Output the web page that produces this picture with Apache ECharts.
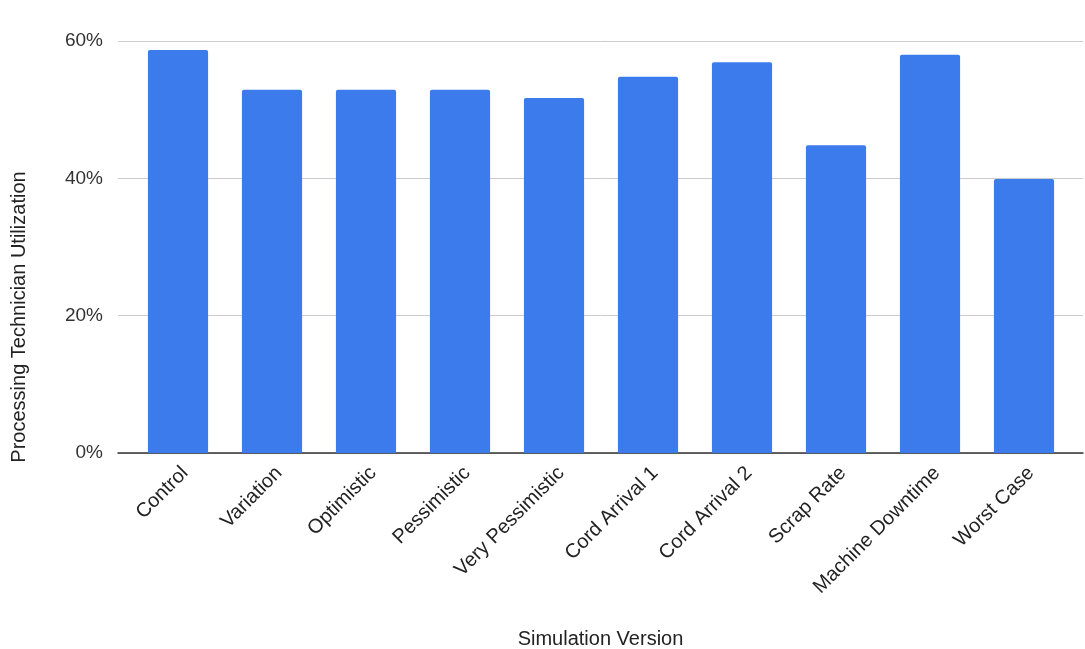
<!DOCTYPE html>
<html>
<head>
<meta charset="utf-8">
<script src="https://cdn.jsdelivr.net/npm/echarts@6/dist/echarts.min.js"></script>
<style>
  html, body { margin: 0; padding: 0; background: #fff; }
  #main { width: 1085px; height: 649px; }
</style>
</head>
<body>
<div id="main"></div>
<script>
var categories = ['Control', 'Variation', 'Optimistic', 'Pessimistic', 'Very Pessimistic',
    'Cord Arrival 1', 'Cord Arrival 2', 'Scrap Rate', 'Machine Downtime', 'Worst Case'];
var utilization = [58.7, 52.9, 52.9, 52.9, 51.7, 54.8, 56.9, 44.8, 58.0, 39.9];
var yTicks = [0, 20, 40, 60];

var font = 'Liberation Sans, Arial, sans-serif';
var chart = echarts.init(document.getElementById('main'));
var option = {
    animation: false,
    textStyle: { fontFamily: font },
    grid: [
        // gridlines + baseline span the full width
        { left: 118, right: 2, top: 41, bottom: 196, outerBoundsMode: 'none' },
        // bars sit in a slightly inset band
        { left: 131, right: 14, top: 41, bottom: 196, outerBoundsMode: 'none' }
    ],
    graphic: [{
        type: 'text',
        rotation: Math.PI / 2,
        x: 9,
        y: 317,
        style: {
            text: 'Processing Technician Utilization',
            font: '20px ' + font,
            fill: '#222',
            align: 'center',
            verticalAlign: 'top'
        }
    }],
    xAxis: [{
        gridIndex: 0,
        type: 'value',
        min: 0,
        max: 1,
        axisLabel: { show: false },
        axisTick: { show: false },
        splitLine: { show: false },
        axisLine: { show: true, onZero: false, lineStyle: { color: '#333', width: 1.5 } },
        name: 'Simulation Version',
        nameLocation: 'middle',
        nameGap: 176,
        nameTextStyle: { fontSize: 20, color: '#222' }
    }, {
        gridIndex: 1,
        type: 'category',
        data: categories,
        axisLine: { show: false },
        axisTick: { show: false },
        axisLabel: { rotate: 45, fontSize: 20, color: '#222', margin: 10, interval: 0, verticalAlign: 'top' }
    }],
    yAxis: [{
        gridIndex: 0,
        type: 'value',
        min: yTicks[0],
        max: yTicks[yTicks.length - 1],
        interval: 20,
        axisLine: { show: false },
        axisTick: { show: false },
        axisLabel: { fontSize: 19, color: '#333', margin: 15, formatter: '{value}%' },
        splitLine: { lineStyle: { color: '#ccc' } }
    }, {
        gridIndex: 1,
        type: 'value',
        min: yTicks[0],
        max: yTicks[yTicks.length - 1],
        interval: 20,
        show: false
    }],
    series: [{
        type: 'bar',
        xAxisIndex: 1,
        yAxisIndex: 1,
        data: utilization,
        barWidth: '64%',
        itemStyle: { color: '#3b7bec', borderRadius: [2, 2, 0, 0] }
    }]
};
chart.setOption(option);
window.onresize = chart.resize;
</script>
</body>
</html>
